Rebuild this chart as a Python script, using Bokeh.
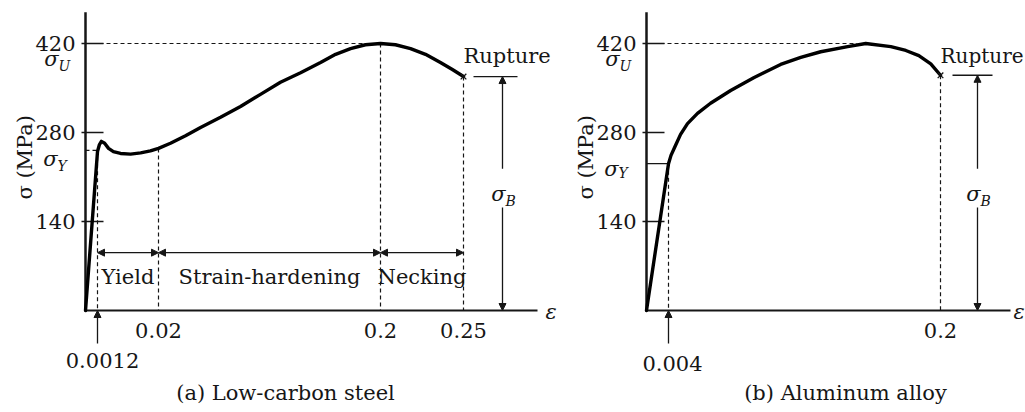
import numpy as np
from bokeh.plotting import figure
from bokeh.models import Range1d, Arrow, NormalHead
from bokeh.layouts import row
from bokeh.core.properties import value
from bokeh.embed import file_html
from bokeh.resources import INLINE

# ---------------- data ----------------
# (a) low-carbon steel, strain (-) vs stress (MPa), schematic curve
steel_strain = [0, 0.0012, 0.0018, 0.0024, 0.0034, 0.0046, 0.0061, 0.0083, 0.0114, 0.0145, 0.0175, 0.02,
                0.0297, 0.0419, 0.0541, 0.0703, 0.0865, 0.1027, 0.1189, 0.1352, 0.1514, 0.1636, 0.1757,
                0.1878, 0.2, 0.209, 0.2181, 0.2271, 0.2361, 0.2433, 0.25]
steel_stress = [0, 250, 261, 266, 263, 255, 250, 247, 246, 248, 251, 255,
                263, 275, 288, 304, 321, 340, 359, 374, 390, 403, 412,
                418, 420, 418, 412, 403, 390, 379, 368]
steel_yield_strain = 0.0012
steel_yield_stress = 252
steel_ultimate = 420
steel_ultimate_strain = 0.2
steel_rupture_strain = 0.25
steel_rupture_stress = 368
steel_ticks = [0.02, 0.2, 0.25]
steel_tick_labels = ["0.02", "0.2", "0.25"]
steel_small_tick_label = "0.0012"
steel_regions = ["Yield", "Strain-hardening", "Necking"]
steel_region_bounds = [0.0012, 0.02, 0.2, 0.25]

# (b) aluminum alloy
alu_strain = [0, 0.004, 0.0058, 0.0087, 0.0127, 0.0177, 0.0249, 0.0343, 0.0488, 0.0654, 0.0848,
              0.0993, 0.1137, 0.1331, 0.1461, 0.1642, 0.175, 0.1844, 0.193, 0.2]
alu_stress = [0, 231, 244, 258, 277, 294, 310, 326, 346, 366, 387,
              398, 407, 415, 420, 415, 409, 401, 388, 370]
alu_yield_strain = 0.004
alu_yield_stress = 231
alu_ultimate = 420
alu_ultimate_strain = 0.14
alu_rupture_strain = 0.2
alu_rupture_stress = 370
alu_ticks = [0.2]
alu_tick_labels = ["0.2"]
alu_small_tick_label = "0.004"

stress_ticks = [140, 280, 420]
stress_tick_labels = ["140", "280", "420"]

# schematic (not to scale) strain axes: piecewise-linear scale knots
STEEL_SCALE_STRAIN = [0, 0.0012, 0.02, 0.2, 0.25, 0.32]
STEEL_SCALE_POS = [0, 12, 73, 295, 378, 494]
ALU_SCALE_STRAIN = [0, 0.004, 0.2, 0.28]
ALU_SCALE_POS = [0, 22, 294, 405]

# ---------------- style ----------------
FONT = value("DejaVu Serif")
FS = "21px"
FS_SUB = "14px"
INK = "#161616"
Y_LO, Y_HI = -160.4, 487.6
H = 412


def mapper(ks, ku):
    return lambda s: np.interp(np.asarray(s, dtype=float), ks, ku)


def make_fig(width, x_start):
    p = figure(width=width, height=H, x_range=Range1d(x_start, x_start + width),
               y_range=Range1d(Y_LO, Y_HI), output_backend="svg", toolbar_location=None,
               min_border=0, x_axis_location=None, y_axis_location=None, title=None)
    p.grid.visible = False
    p.outline_line_color = None
    return p


def txt(p, x, y, t, align="center", baseline="middle", size=FS, style="normal", angle=0, xo=0):
    p.text(x=[x], y=[y], text=[t], text_font=FONT, text_font_size=size, text_color=INK,
           text_align=align, text_baseline=baseline, text_font_style=style, angle=angle,
           x_offset=xo)


def sigma(p, x, y, sub, sub_dy):
    txt(p, x, y, "σ", align="right", baseline="alphabetic", style="italic")
    txt(p, x, y - sub_dy, sub, align="left", baseline="alphabetic", size=FS_SUB, style="italic")


def arrow(p, x0, y0, x1, y1, both=False):
    head = dict(size=7, fill_color=INK, line_color=INK, line_width=1)
    p.add_layout(Arrow(x_start=x0, y_start=y0, x_end=x1, y_end=y1, line_width=1.3, line_color=INK,
                       end=NormalHead(**head), start=NormalHead(**head) if both else None))


DASH = dict(line_color=INK, line_width=1.2, line_dash="4 3")


def common(p, f, strain, stress, ys, ysig_y, ult, ult_strain, r_strain, r_stress,
           ticks, tick_labels, small_lbl, small_dy, small_xo, axis_end, dim_dx, tick_lo, tick_hi,
           rup_size, sub_dy_y):
    # axes
    p.line([0, 0], [0, 469], line_color=INK, line_width=2.5)
    p.line([0, axis_end], [0, 0], line_color=INK, line_width=2)
    # y ticks
    p.segment(x0=[-4] * 3, y0=stress_ticks, x1=[18] * 3, y1=stress_ticks, line_color=INK, line_width=1.5)
    for v, lb in zip(stress_ticks, stress_tick_labels):
        txt(p, -10, v, lb, align="right")
    sigma(p, -27, 396, "U", 11)
    sigma(p, -28, ysig_y, "Y", sub_dy_y)
    # ultimate guide
    p.line([0, f(ult_strain)], [ult, ult], **DASH)
    # rupture guide
    p.segment(x0=[f(r_strain)], y0=[r_stress], x1=[f(r_strain)], y1=[0], **DASH)
    # x tick labels
    for v, lb in zip(ticks, tick_labels):
        txt(p, float(f(v)), -31, lb)
    # small strain pointer
    ux = float(f(ys))
    arrow(p, ux, -52, ux, 0)
    txt(p, ux, small_dy, small_lbl, xo=small_xo)
    # curve
    p.line(f(strain), stress, line_color="black", line_width=3.4, line_join="round", line_cap="round")
    p.scatter([float(f(r_strain))], [r_stress], marker="x", size=8, line_color=INK, line_width=1.3)
    # rupture annotation
    ur = float(f(r_strain))
    p.segment(x0=[ur + tick_lo], y0=[r_stress], x1=[ur + tick_hi], y1=[r_stress], line_color=INK, line_width=1.3)
    txt(p, ur, 401, "Rupture", align="left", size=rup_size)
    ub = ur + dim_dx
    arrow(p, ub, 223, ub, r_stress)
    arrow(p, ub, 162, ub, 0)
    sigma(p, ub + 3, 184, "B", 11)
    # y label
    txt(p, -61, 241, "σ (MPa)", angle=np.pi / 2)


# ---------------- (a) low-carbon steel ----------------
fa = make_fig(572, -85)
ua = mapper(STEEL_SCALE_STRAIN, STEEL_SCALE_POS)
s02 = float(np.interp(0.02, steel_strain, steel_stress))
fa.segment(x0=[0], y0=[steel_yield_stress], x1=[float(ua(steel_yield_strain))], y1=[steel_yield_stress], **DASH)
fa.segment(x0=ua([steel_yield_strain, 0.02, steel_ultimate_strain]),
           y0=[steel_yield_stress, s02, steel_ultimate],
           x1=ua([steel_yield_strain, 0.02, steel_ultimate_strain]), y1=[0, 0, 0], **DASH)
common(fa, ua, steel_strain, steel_stress, steel_yield_strain, 239, steel_ultimate,
       steel_ultimate_strain, steel_rupture_strain, steel_rupture_stress, steel_ticks,
       steel_tick_labels, steel_small_tick_label, -79, 5, 452, 39, 10, 54, "21px", 11)
for lo, hi, name in zip(steel_region_bounds[:-1], steel_region_bounds[1:], steel_regions):
    arrow(fa, float(ua(lo)), 91, float(ua(hi)), 91, both=True)
    txt(fa, float(ua((lo + hi) / 2)), 52, name)
txt(fa, 460, -3, "ε", align="left", style="italic")
txt(fa, 200, -129, "(a) Low-carbon steel")

# ---------------- (b) aluminum alloy ----------------
fb = make_fig(453, -74)
ub_ = mapper(ALU_SCALE_STRAIN, ALU_SCALE_POS)
uy = float(ub_(alu_yield_strain))
fb.segment(x0=[uy], y0=[alu_yield_stress], x1=[uy], y1=[0], **DASH)
fb.segment(x0=[0], y0=[alu_yield_stress], x1=[uy], y1=[alu_yield_stress], line_color=INK, line_width=1.3)
common(fb, ub_, alu_strain, alu_stress, alu_yield_strain, 223, alu_ultimate,
       alu_ultimate_strain, alu_rupture_strain, alu_rupture_stress, alu_ticks,
       alu_tick_labels, alu_small_tick_label, -83, 4, 364, 37, 12, 52, "20px", 6)
txt(fb, 367, -3, "ε", align="left", style="italic")
txt(fb, 199, -129, "(b) Aluminum alloy")

layout = row(fa, fb)
open("out.html", "w").write(file_html(layout, INLINE))
